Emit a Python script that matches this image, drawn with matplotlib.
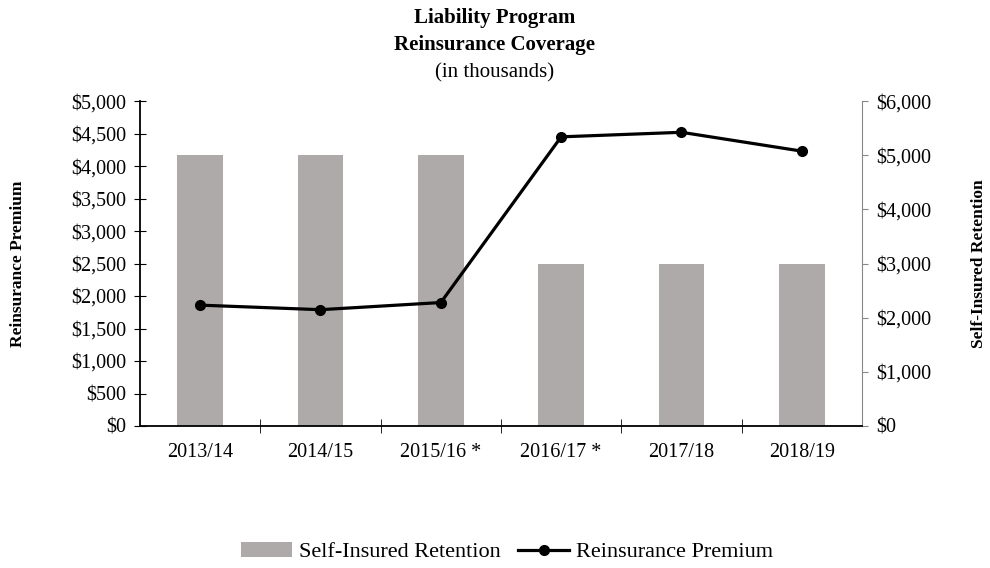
import numpy as np
import matplotlib.pyplot as plt
from matplotlib.ticker import FuncFormatter, FixedLocator

plt.rcParams['font.family'] = ['Liberation Serif', 'DejaVu Serif']

# data (in thousands)
years = ['2013/14', '2014/15', '2015/16 *', '2016/17 *', '2017/18', '2018/19']
self_insured = [5000, 5000, 5000, 3000, 3000, 3000]
premium = [1860, 1790, 1900, 4450, 4520, 4230]

x = np.arange(len(years))
money = FuncFormatter(lambda v, p: '${:,.0f}'.format(v))

fig = plt.figure(figsize=(9.9, 5.68), dpi=100)
ax = fig.add_axes([0.1414, 0.25, 0.7293, 0.572])
ax2 = ax.twinx()

# bars belong to the right axis
ax2.bar(x, self_insured, width=0.38, color='#aeaaaa', label='Self-Insured Retention')
ax2.set_ylim(0, 6000)
ax2.set_yticks(np.arange(0, 6001, 1000))
ax2.yaxis.set_major_formatter(money)
ax2.tick_params(axis='y', direction='out', length=4, color='#888888', labelsize=14.5, pad=6)
ax2.set_ylabel('Self-Insured Retention', fontsize=12.5, fontweight='bold')
ax2.yaxis.set_label_coords(1.151, 0.5)

# line on the left axis, drawn on top
ax.set_zorder(ax2.get_zorder() + 1)
ax.patch.set_visible(False)
ax.plot(x, premium, color='black', lw=2.3, marker='o', ms=7, label='Reinsurance Premium')
ax.set_ylim(0, 5000)
ax.set_yticks(np.arange(0, 5001, 500))
ax.yaxis.set_major_formatter(money)
ax.tick_params(axis='y', direction='inout', length=8, labelsize=14.5, pad=6)
ax.set_ylabel('Reinsurance Premium', fontsize=12.5, fontweight='bold')
ax.yaxis.set_label_coords(-0.158, 0.5)

ax.set_xlim(-0.5, len(years) - 0.5)
ax.set_xticks(x)
ax.set_xticklabels(years, fontsize=14.5)
ax.xaxis.set_minor_locator(FixedLocator(np.arange(0.5, len(years) - 1, 1.0)))
ax.tick_params(axis='x', which='major', length=0, pad=12)
ax.tick_params(axis='x', which='minor', direction='inout', length=10)

for a in (ax, ax2):
    a.spines['top'].set_visible(False)
ax.spines['right'].set_visible(False)
ax2.spines['left'].set_visible(False)
ax2.spines['bottom'].set_visible(False)
ax2.spines['right'].set_color('#888888')
ax.spines['left'].set_linewidth(1.3)
ax.spines['bottom'].set_linewidth(1.3)

fig.text(0.5, 0.969, 'Liability Program', ha='center', va='center', fontsize=15, fontweight='bold')
fig.text(0.5, 0.92, 'Reinsurance Coverage', ha='center', va='center', fontsize=15, fontweight='bold')
fig.text(0.5, 0.872, '(in thousands)', ha='center', va='center', fontsize=15)

h1, l1 = ax2.get_legend_handles_labels()
h2, l2 = ax.get_legend_handles_labels()
fig.legend(h1 + h2, l1 + l2, loc='center', bbox_to_anchor=(0.512, 0.028), ncol=2,
           frameon=False, fontsize=16, handlelength=2.3, columnspacing=0.8, handletextpad=0.3)

fig.savefig('out.png', dpi=100)
